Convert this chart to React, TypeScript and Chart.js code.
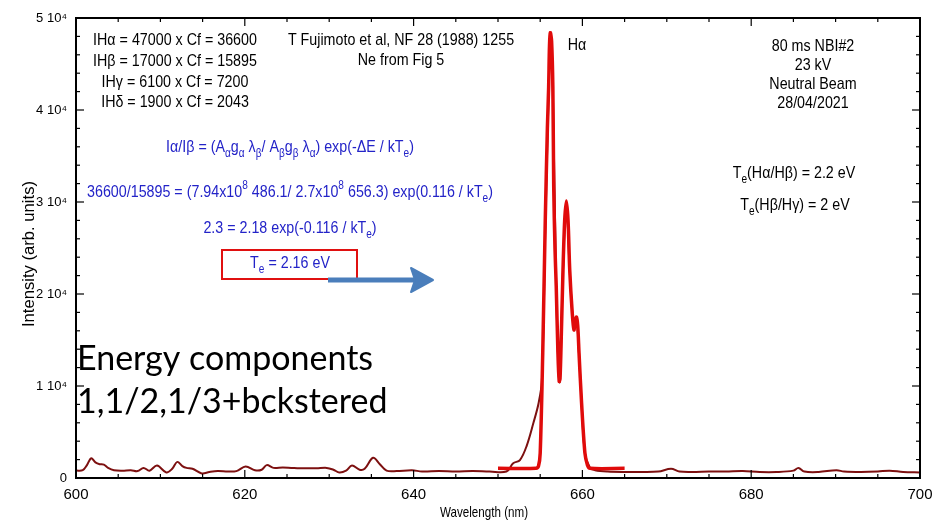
import React, { useEffect, useRef } from 'react';
import { Chart, registerables } from 'chart.js';

Chart.register(...registerables);

// ---- Data ----
const spectrumWavelength = [
  600, 600.8, 601.3, 601.8, 602.3, 602.8, 603.3, 603.8, 604.5, 605.5, 606.5, 607.3, 608.0, 608.7, 609.6,
  610.7, 611.4, 612.0, 612.6, 613.1, 613.8, 614.9, 615.8, 616.8, 618.0, 619.0, 620.1, 621.2, 622.0, 622.6,
  623.4, 624.5, 625.5, 626.5, 627.5, 628.5, 629.7, 630.5, 631.2, 632.0, 632.7, 633.6, 634.2, 635.2, 636.0,
  636.8, 638.0, 639.8, 641.0, 643.0, 645.0, 647.0, 649.0, 651.0, 651.8, 652.6, 653.4, 654.2, 654.8, 655.2,
  655.6, 656.0, 656.2, 656.5, 656.9, 657.3, 657.7, 658.1, 658.5, 659.0, 659.3, 659.6, 659.9, 660.3, 660.9,
  661.5, 663.0, 665.0, 667.0, 669.0, 670.5, 671.5, 673.0, 675.0, 677.0, 679.0, 681.0, 683.0, 685.0, 685.6,
  686.3, 688.0, 690.1, 691.0, 693.0, 695.0, 696.4, 698.0, 700,
];
const spectrumIntensity = [
  800, 850, 1400, 2150, 1700, 1500, 1450, 1100, 850, 800, 850, 750, 1100, 800, 1350,
  600, 1000, 1750, 1300, 1100, 1000, 500, 650, 750, 700, 750, 1250, 850, 900, 1400,
  1100, 1150, 1100, 1050, 1050, 1050, 1100, 900, 600, 800, 1350, 900, 1000, 2200, 1500,
  800, 750, 850, 700, 750, 700, 750, 700, 700, 1600, 1950, 3500, 6000, 8100, 10600,
  27000, 42000, 47500, 42000, 20500, 10400, 22500, 30000, 22500, 16100, 17400, 13500, 8200, 2700, 1100,
  850, 700, 650, 650, 700, 1000, 700, 650, 700, 700, 750, 650, 650, 800, 1100,
  700, 650, 850, 700, 650, 700, 800, 650, 600,
];
const fitWavelength = [
  650.0, 654.5, 654.8, 655.0, 655.3, 655.6, 655.85, 656.0, 656.1, 656.2, 656.35, 656.5, 656.6, 656.75,
  656.9, 657.1, 657.25, 657.35, 657.5, 657.7, 657.9, 658.1, 658.3, 658.5, 658.8, 659.0, 659.1, 659.3,
  659.45, 659.6, 659.9, 660.3, 660.6, 660.9, 665.0,
];
const fitIntensity = [
  1050, 1050, 1300, 2700, 13600, 28000, 38000, 42500, 47000, 48400, 47500, 42500, 31700, 25000,
  20800, 13600, 10500, 10800, 15400, 22600, 28000, 30100, 28000, 22600, 17900, 16100, 16800, 17500,
  16500, 13600, 8200, 2700, 1400, 1050, 1050,
];
const xMin = 600;
const xMax = 700;
const xLabelStep = 20;
const xMinorStep = 5;
const yMin = 0;
const yMax = 50000;
const yLabelStep = 10000;
const yMinorStep = 2000;

const FONT = '"Liberation Sans Narrow", "Liberation Sans", Arial, sans-serif';
const BLUE = '#2323c8';
const SX = 0.84; // horizontal condensing, to mimic Helvetica Narrow
const SIZE = 17;

type Seg = { t: string; sub?: boolean; sup?: boolean };

function drawRich(ctx: CanvasRenderingContext2D, segs: Seg[], cx: number, cy: number, color: string, size = SIZE, sx = SX) {
  const small = Math.round(size * 0.72);
  let total = 0;
  const widths: number[] = [];
  for (const s of segs) {
    ctx.font = `${s.sub || s.sup ? small : size}px ${FONT}`;
    const w = ctx.measureText(s.t).width;
    widths.push(w);
    total += w;
  }
  ctx.save();
  ctx.translate(cx, cy);
  ctx.scale(sx, 1);
  let x = -total / 2;
  ctx.fillStyle = color;
  ctx.textAlign = 'left';
  ctx.textBaseline = 'middle';
  segs.forEach((s, i) => {
    ctx.font = `${s.sub || s.sup ? small : size}px ${FONT}`;
    const dy = s.sub ? size * 0.42 : s.sup ? -size * 0.4 : 0;
    ctx.fillText(s.t, x, dy);
    x += widths[i];
  });
  ctx.restore();
}

function drawFit(ctx: CanvasRenderingContext2D, text: string, cx: number, cy: number, size: number, target: number, rot = 0) {
  ctx.save();
  ctx.font = `${size}px ${FONT}`;
  const w = ctx.measureText(text).width;
  ctx.translate(cx, cy);
  if (rot) ctx.rotate(rot);
  ctx.scale(target / w, 1);
  ctx.fillStyle = '#000';
  ctx.textAlign = 'center';
  ctx.textBaseline = 'middle';
  ctx.fillText(text, 0, 0);
  ctx.restore();
}

const overlayPlugin = {
  id: 'overlay',
  afterDraw(chart: any) {
    const { ctx, chartArea: a, scales } = chart;
    const xs = scales.x;
    const ys = scales.y;
    ctx.save();
    // inward ticks
    ctx.strokeStyle = '#000';
    ctx.lineWidth = 1.2;
    const seg = (x1: number, y1: number, x2: number, y2: number) => {
      ctx.beginPath();
      ctx.moveTo(x1, y1);
      ctx.lineTo(x2, y2);
      ctx.stroke();
    };
    for (let v = xMin; v <= xMax; v += xMinorStep) {
      const px = xs.getPixelForValue(v);
      const len = v % xLabelStep === 0 ? 8 : 4;
      seg(px, a.bottom, px, a.bottom - len);
      seg(px, a.top, px, a.top + len);
    }
    for (let v = yMin; v <= yMax; v += yMinorStep) {
      const py = ys.getPixelForValue(v);
      const len = v % yLabelStep === 0 ? 8 : 4;
      seg(a.left, py, a.left + len, py);
      seg(a.right, py, a.right - len, py);
    }
    // frame
    ctx.lineWidth = 2;
    ctx.strokeRect(a.left, a.top, a.right - a.left, a.bottom - a.top);

    // axis titles
    drawFit(ctx, 'Wavelength (nm)', 484, 513, 15, 88);
    drawFit(ctx, 'Intensity (arb. units)', 30, 254, 16, 146, -Math.PI / 2);

    // black annotations
    const tl = ['IHα = 47000 x Cf = 36600', 'IHβ = 17000 x Cf = 15895', 'IHγ = 6100 x Cf = 7200', 'IHδ = 1900 x Cf = 2043'];
    const tly = [40, 61, 82, 102];
    tl.forEach((t, i) => drawRich(ctx, [{ t }], 175, tly[i], '#000'));
    drawRich(ctx, [{ t: 'T Fujimoto et al, NF 28 (1988) 1255' }], 401, 40, '#000');
    drawRich(ctx, [{ t: 'Ne from Fig 5' }], 401, 60, '#000');
    drawRich(ctx, [{ t: 'Hα' }], 577, 45, '#000');
    const rt = ['80 ms NBI#2', '23 kV', 'Neutral Beam', '28/04/2021'];
    const rty = [46, 65, 84, 103];
    rt.forEach((t, i) => drawRich(ctx, [{ t }], 813, rty[i], '#000'));
    drawRich(ctx, [{ t: 'T' }, { t: 'e', sub: true }, { t: '(Hα/Hβ) = 2.2 eV' }], 794, 173, '#000');
    drawRich(ctx, [{ t: 'T' }, { t: 'e', sub: true }, { t: '(Hβ/Hγ) = 2 eV' }], 795, 205, '#000');

    // blue equations
    drawRich(ctx, [
      { t: 'Iα/Iβ = (A' }, { t: 'α', sub: true }, { t: 'g' }, { t: 'α', sub: true }, { t: ' λ' }, { t: 'β', sub: true },
      { t: '/ A' }, { t: 'β', sub: true }, { t: 'g' }, { t: 'β', sub: true }, { t: ' λ' }, { t: 'α', sub: true },
      { t: ') exp(-ΔE / kT' }, { t: 'e', sub: true }, { t: ')' },
    ], 290, 147, BLUE);
    drawRich(ctx, [
      { t: '36600/15895 = (7.94x10' }, { t: '8', sup: true }, { t: ' 486.1/ 2.7x10' }, { t: '8', sup: true },
      { t: ' 656.3) exp(0.116 / kT' }, { t: 'e', sub: true }, { t: ')' },
    ], 290, 192, BLUE);
    drawRich(ctx, [{ t: '2.3 = 2.18 exp(-0.116 / kT' }, { t: 'e', sub: true }, { t: ')' }], 290, 228, BLUE);
    drawRich(ctx, [{ t: 'T' }, { t: 'e', sub: true }, { t: ' = 2.16 eV' }], 290, 263, BLUE);

    // red box
    ctx.strokeStyle = '#e01010';
    ctx.lineWidth = 2;
    ctx.strokeRect(222, 250, 135, 29);

    // arrow
    ctx.strokeStyle = '#4a7ebb';
    ctx.fillStyle = '#4a7ebb';
    ctx.lineWidth = 5;
    ctx.beginPath();
    ctx.moveTo(328, 280);
    ctx.lineTo(418, 280);
    ctx.stroke();
    ctx.beginPath();
    ctx.moveTo(433, 280);
    ctx.lineTo(411, 268);
    ctx.lineTo(415, 280);
    ctx.lineTo(411, 292);
    ctx.closePath();
    ctx.fill();
    ctx.lineWidth = 2;
    ctx.lineJoin = 'round';
    ctx.stroke();

    // big text
    ctx.fillStyle = '#000';
    ctx.font = '34px Lato, "Open Sans", sans-serif';
    ctx.textAlign = 'left';
    ctx.textBaseline = 'alphabetic';
    ctx.fillText('Energy components', 77, 370);
    ctx.fillText('1,1/2,1/3+bckstered', 77, 413);
    ctx.restore();
  },
};

export default function App() {
  const ref = useRef<HTMLCanvasElement | null>(null);
  useEffect(() => {
    if (!ref.current) return;
    const spectrum = spectrumWavelength.map((w, i) => ({ x: w, y: spectrumIntensity[i] }));
    const fit = fitWavelength.map((w, i) => ({ x: w, y: fitIntensity[i] }));
    const chart = new Chart(ref.current, {
      type: 'line',
      data: {
        datasets: [
          {
            label: 'Fit',
            data: fit,
            borderColor: '#e00b0b',
            borderWidth: 3.5,
            pointRadius: 0,
            tension: 0.3,
            fill: false,
          },
          {
            label: 'Spectrum',
            data: spectrum,
            borderColor: '#7d1010',
            borderWidth: 2,
            pointRadius: 0,
            tension: 0.35,
            fill: false,
          },
        ],
      },
      options: {
        responsive: false,
        animation: false,
        layout: { padding: { top: 18, right: 16, left: 0, bottom: 0 } },
        plugins: { legend: { display: false }, tooltip: { enabled: false } },
        scales: {
          x: {
            type: 'linear',
            min: xMin,
            max: xMax,
            grid: { display: false, drawTicks: false },
            border: { display: false },
            ticks: {
              stepSize: xLabelStep,
              autoSkip: false,
              maxRotation: 0,
              padding: 8,
              color: '#000',
              font: { family: FONT, size: 15 },
            },
            afterFit: (s: any) => { s.height = 46; s.paddingRight = 0; s.paddingLeft = 0; },
          },
          y: {
            type: 'linear',
            min: yMin,
            max: yMax,
            grid: { display: false, drawTicks: false },
            border: { display: false },
            ticks: {
              stepSize: yLabelStep,
              autoSkip: false,
              padding: 9,
              color: '#000',
              font: { family: FONT, size: 13 },
              callback: (v: any) => (v === 0 ? '0' : `${v / 10000} 10⁴`),
            },
            afterFit: (s: any) => { s.width = 76; s.paddingTop = 0; s.paddingBottom = 0; },
          },
        },
      },
      plugins: [overlayPlugin],
    });
    return () => chart.destroy();
  }, []);
  return (
    <div style={{ position: 'absolute', left: 0, top: 0, width: 936, height: 524, background: '#fff' }}>
      <canvas ref={ref} width={936} height={524} style={{ display: 'block' }} />
    </div>
  );
}
